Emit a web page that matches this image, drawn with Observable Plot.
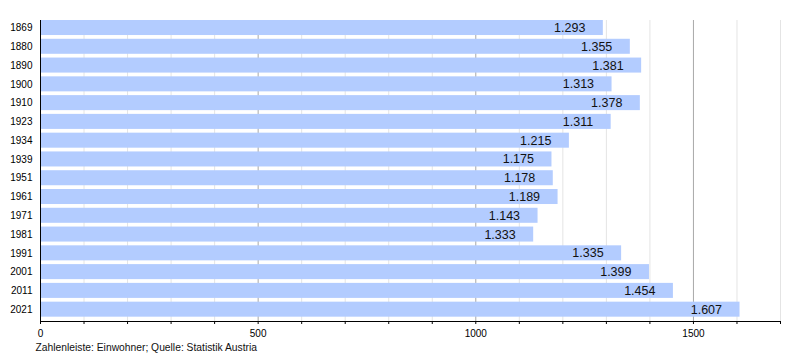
<!DOCTYPE html>
<html>
<head>
<meta charset="utf-8">
<script src="https://cdn.jsdelivr.net/npm/d3@7"></script>
<script src="https://cdn.jsdelivr.net/npm/@observablehq/plot@0.6"></script>
<style>
  html, body { margin: 0; padding: 0; background: #fff; }
  svg { display: block; font-family: "Liberation Sans", Arial, sans-serif; }
</style>
</head>
<body>
<div id="chart"></div>
<script>
const years = ["1869","1880","1890","1900","1910","1923","1934","1939","1951","1961","1971","1981","1991","2001","2011","2021"];
const values = [1293,1355,1381,1313,1378,1311,1215,1175,1178,1189,1143,1133,1335,1399,1454,1607];
const labels = ["1.293","1.355","1.381","1.313","1.378","1.311","1.215","1.175","1.178","1.189","1.143","1.333","1.335","1.399","1.454","1.607"];
const minorTicks = [100,200,300,400,600,700,800,900,1100,1200,1300,1400,1600,1700];
const majorTicks = [500,1000,1500];
const allTicks = [0,100,200,300,400,500,600,700,800,900,1000,1100,1200,1300,1400,1500,1600,1700];
const caption = "Zahlenleiste: Einwohner; Quelle: Statistik Austria";

const data = years.map((y, i) => ({year: y, value: values[i], label: labels[i]}));

const chart = Plot.plot({
  width: 800,
  height: 360,
  marginLeft: 40,
  marginRight: 20,
  marginTop: 20,
  marginBottom: 39,
  style: {fontFamily: "'Liberation Sans', Arial, sans-serif", color: "#000", background: "#fff"},
  x: {domain: [0, 1700], label: null},
  y: {domain: years, paddingInner: 0.2, paddingOuter: 0.115, align: 0, round: false, label: null},
  marks: [
    Plot.ruleX(minorTicks, {stroke: "#e4e4e4", strokeWidth: 1}),
    Plot.ruleX(majorTicks, {stroke: "#a8a8a8", strokeWidth: 1}),
    Plot.barX(data, {x: "value", y: "year", fill: "#b3ccff"}),
    Plot.text(data, {x: "value", y: "year", text: "label", textAnchor: "end", dx: -18, fontSize: 12.5, fill: "#111"}),
    Plot.ruleX([0], {stroke: "#000", strokeWidth: 1}),
    Plot.frame({anchor: "bottom", stroke: "#000"}),
    Plot.axisY({tickSize: 0, tickPadding: 8, fontSize: 10, label: null}),
    Plot.axisX({ticks: allTicks, tickSize: 3, tickPadding: 5, fontSize: 10, label: null,
      tickFormat: d => (d % 500 === 0 ? String(d) : "")}),
    Plot.text([caption], {frameAnchor: "bottom-left", dx: -5, dy: 29, textAnchor: "start", fontSize: 10.3, fill: "#111"})
  ]
});
document.getElementById("chart").appendChild(chart);
</script>
</body>
</html>
